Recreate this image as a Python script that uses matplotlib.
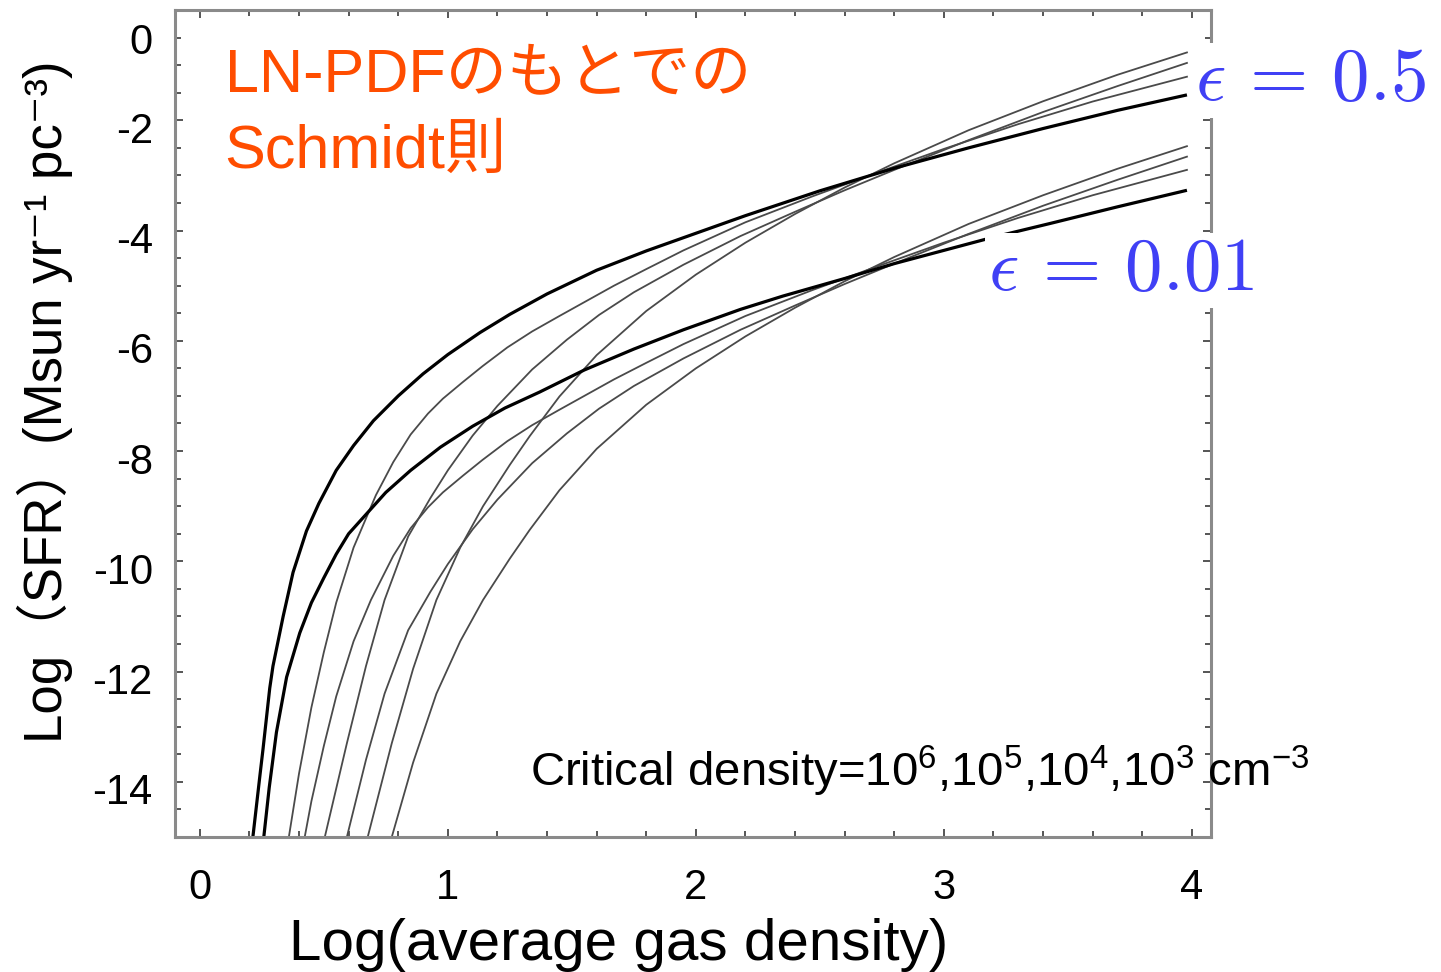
import matplotlib
matplotlib.use("Agg")
import matplotlib.pyplot as plt
import matplotlib.transforms as mtransforms
import numpy as np

plt.rcParams['font.family'] = ['Liberation Sans', 'Noto Sans CJK JP', 'DejaVu Sans']

# --- data: Log(SFR) vs Log(average gas density) ---
# epsilon = 0.5 group (thick line first, then the three thin lines)
x_e05_a = [0.214, 0.242, 0.255, 0.282, 0.295, 0.336, 0.376, 0.43, 0.48, 0.55, 0.62, 0.70, 0.80, 0.90,
           1.0, 1.13, 1.25, 1.4, 1.6, 1.8, 2.0, 2.2, 2.5, 2.8, 3.1, 3.4, 3.7, 3.98]
y_e05_a = [-15.0, -13.9, -13.4, -12.3, -11.9, -11.0, -10.2, -9.45, -8.95, -8.35, -7.9, -7.45, -7.0, -6.6,
           -6.25, -5.85, -5.52, -5.15, -4.72, -4.37, -4.05, -3.73, -3.28, -2.87, -2.5, -2.15, -1.82, -1.54]

x_e05_b = [0.359, 0.40, 0.45, 0.5, 0.55, 0.62, 0.71, 0.78, 0.85, 0.92, 0.98, 1.06, 1.14, 1.24, 1.34,
           1.45, 1.55, 1.67, 1.8, 1.95, 2.2, 2.47, 2.75, 3.0, 3.3, 3.6, 3.98]
y_e05_b = [-15.0, -13.85, -12.65, -11.65, -10.75, -9.75, -8.8, -8.2, -7.7, -7.32, -7.05, -6.75, -6.46,
           -6.12, -5.83, -5.55, -5.3, -5.0, -4.7, -4.36, -3.85, -3.38, -2.92, -2.52, -2.07, -1.66, -1.21]

x_e05_c = [0.504, 0.593, 0.67, 0.745, 0.84, 0.93, 1.0, 1.1, 1.2, 1.34, 1.48, 1.61, 1.75, 1.95, 2.18,
           2.4, 2.6, 2.8, 3.1, 3.4, 3.7, 3.98]
y_e05_c = [-15.0, -13.3, -11.9, -10.7, -9.55, -8.85, -8.35, -7.72, -7.18, -6.52, -5.98, -5.53, -5.12,
           -4.62, -4.1, -3.66, -3.27, -2.9, -2.36, -1.85, -1.38, -0.96]

x_e05_d = [0.677, 0.774, 0.86, 0.954, 1.05, 1.142, 1.25, 1.33, 1.45, 1.6, 1.8, 2.0, 2.2, 2.4, 2.6,
           2.8, 3.1, 3.4, 3.7, 3.98]
y_e05_d = [-15.0, -13.3, -11.95, -10.7, -9.75, -9.0, -8.25, -7.73, -7.01, -6.26, -5.46, -4.80, -4.22,
           -3.70, -3.22, -2.78, -2.18, -1.655, -1.175, -0.77]

# epsilon = 0.01 group
x_e001_a = [0.258, 0.28, 0.309, 0.35, 0.403, 0.45, 0.5, 0.55, 0.6, 0.67, 0.75, 0.85, 0.97, 1.1, 1.23,
            1.37, 1.55, 1.75, 1.95, 2.18, 2.35, 2.6, 2.8, 3.0, 3.2, 3.43, 3.7, 3.98]
y_e001_a = [-15.0, -14.1, -13.1, -12.1, -11.3, -10.75, -10.3, -9.87, -9.5, -9.15, -8.75, -8.35, -7.93,
            -7.55, -7.22, -6.93, -6.53, -6.15, -5.8, -5.43, -5.19, -4.87, -4.6, -4.36, -4.12, -3.87,
            -3.57, -3.27]

x_e001_b = [0.423, 0.45, 0.5, 0.55, 0.62, 0.69, 0.78, 0.85, 0.92, 0.98, 1.06, 1.14, 1.24, 1.34, 1.45,
            1.55, 1.67, 1.8, 1.95, 2.2, 2.47, 2.75, 3.0, 3.3, 3.6, 3.98]
y_e001_b = [-15.0, -14.35, -13.35, -12.45, -11.45, -10.7, -9.9, -9.4, -9.02, -8.75, -8.45, -8.16,
            -7.82, -7.53, -7.25, -7.0, -6.7, -6.4, -6.06, -5.55, -5.08, -4.62, -4.22, -3.77, -3.36,
            -2.90]

x_e001_c = [0.593, 0.67, 0.745, 0.84, 0.93, 1.0, 1.1, 1.2, 1.34, 1.48, 1.61, 1.75, 1.95, 2.18, 2.4,
            2.6, 2.8, 3.1, 3.4, 3.7, 3.98]
y_e001_c = [-15.0, -13.6, -12.4, -11.25, -10.55, -10.05, -9.42, -8.88, -8.22, -7.68, -7.23, -6.82,
            -6.32, -5.8, -5.36, -4.97, -4.6, -4.06, -3.55, -3.08, -2.66]

x_e001_d = [0.774, 0.86, 0.954, 1.05, 1.142, 1.25, 1.33, 1.45, 1.6, 1.8, 2.0, 2.2, 2.4, 2.6, 2.8,
            3.1, 3.4, 3.7, 3.98]
y_e001_d = [-15.0, -13.65, -12.4, -11.45, -10.7, -9.95, -9.43, -8.71, -7.96, -7.16, -6.5, -5.92,
            -5.4, -4.92, -4.48, -3.88, -3.36, -2.88, -2.47]

x_ticks = [0, 1, 2, 3, 4]
y_ticks = [0, -2, -4, -6, -8, -10, -12, -14]
y_tick_labels = ['0', '-2', '-4', '-6', '-8', '-10', '-12', '-14']

# --- figure ---
fig = plt.figure(figsize=(14.41, 9.72), dpi=100)
ax = fig.add_axes([175 / 1441, 1 - 837 / 972, 1036 / 1441, 827 / 972])

thick = dict(color='black', lw=2.3, solid_capstyle='butt')
thin = dict(color='#4a4a4a', lw=1.3)

ax.plot(x_e05_b, y_e05_b, **thin)
ax.plot(x_e05_c, y_e05_c, **thin)
ax.plot(x_e05_d, y_e05_d, **thin)
ax.plot(x_e001_b, y_e001_b, **thin)
ax.plot(x_e001_c, y_e001_c, **thin)
ax.plot(x_e001_d, y_e001_d, **thin)
ax.plot(x_e05_a, y_e05_a, **thick)
ax.plot(x_e001_a, y_e001_a, **thick)

ax.set_xlim(-0.1, 4.077)
ax.set_ylim(-15, 0)

# ticks: inward on all sides
ax.set_xticks(x_ticks)
ax.set_xticklabels([str(t) for t in x_ticks])
ax.set_xticks(np.arange(0, 4.01, 0.2), minor=True)
ax.set_yticks(y_ticks)
ax.set_yticklabels(y_tick_labels)
ax.set_yticks(np.arange(-15, 0.01, 0.5), minor=True)
ax.tick_params(which='both', direction='in', top=True, right=True, color='#555555', width=1.4)
ax.tick_params(which='major', length=6)
ax.tick_params(which='minor', length=4)
ax.tick_params(axis='x', which='major', labelsize=30, pad=22)
ax.tick_params(axis='y', which='major', labelsize=30, pad=16)

# y labels in the original sit a little below their ticks
for i, lab in enumerate(ax.get_yticklabels()):
    shift = 0.28 if i == 0 else 0.07
    lab.set_transform(lab.get_transform() + mtransforms.ScaledTranslation(0, -shift, fig.dpi_scale_trans))

for s in ax.spines.values():
    s.set_color('#8a8a8a')
    s.set_linewidth(2.2)

# axis titles
fig.text(619 / 1441, 1 - 960 / 972, 'Log(average gas density)', fontsize=42,
         ha='center', va='baseline')
fig.text(45 / 1441, 1 - 402 / 972, 'Log（SFR）(Msun yr⁻¹ pc⁻³)',
         fontsize=38, rotation=90, ha='center', va='center')

# annotations
ax.text(0.1, -1.47, 'LN-PDFのもとでの', color='#ff4d00', fontsize=44, va='baseline')
ax.text(0.1, -2.866, 'Schmidt則', color='#ff4d00', fontsize=44, va='baseline')
ax.text(4.012, -1.63, r'$\epsilon\,=\,0.5$', color='#4040f5', fontsize=54, math_fontfamily='cm',
        va='baseline', clip_on=False,
        bbox=dict(facecolor='white', edgecolor='none', pad=2))
ax.text(3.177, -5.08, r'$\epsilon\,=\,0.01$', color='#4040f5', fontsize=54, math_fontfamily='cm',
        va='baseline', clip_on=False,
        bbox=dict(facecolor='white', edgecolor='none', pad=2))
ax.text(1.33, -14.08,
        'Critical density=10$\\mathregular{^6}$,10$\\mathregular{^5}$,10$\\mathregular{^4}$,'
        '10$\\mathregular{^3}$ cm$\\mathregular{^{-3}}$',
        fontsize=34, va='baseline', clip_on=False)

fig.savefig('out.png', dpi=100, facecolor='white')
